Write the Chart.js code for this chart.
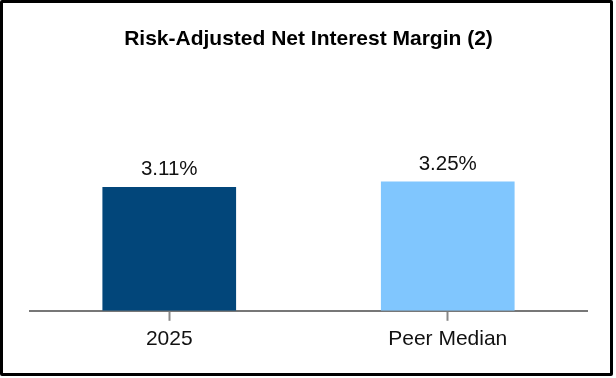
<!DOCTYPE html>
<html>
<head>
<meta charset="utf-8">
<script src="https://cdn.jsdelivr.net/npm/chart.js@4/dist/chart.umd.min.js"></script>
<style>
  body { margin: 0; background: #fff; }
  #wrap { position: relative; width: 616px; height: 378px; }
  #frame {
    position: absolute; left: 0; top: 0; width: 613px; height: 376px;
    box-sizing: border-box; border: 3px solid #000; border-radius: 2px;
    pointer-events: none;
  }
</style>
</head>
<body>
<div id="wrap">
  <canvas id="chart" width="616" height="378"></canvas>
  <div id="frame"></div>
</div>
<script>
// chart data
const categories = ['2025', 'Peer Median'];
const marginValues = [3.11, 3.25];
const valueLabels = ['3.11%', '3.25%'];

const FONT = "'Liberation Sans', Arial, sans-serif";

// draws the value above each bar
const valueLabelPlugin = {
  id: 'valueLabels',
  afterDatasetsDraw(chart) {
    const ctx = chart.ctx;
    const meta = chart.getDatasetMeta(0);
    ctx.save();
    ctx.font = '20.5px ' + FONT;
    ctx.fillStyle = '#111';
    ctx.textAlign = 'center';
    ctx.textBaseline = 'alphabetic';
    meta.data.forEach((bar, i) => {
      ctx.fillText(valueLabels[i], bar.x, bar.y - 12);
    });
    ctx.restore();
  }
};

new Chart(document.getElementById('chart'), {
  type: 'bar',
  data: {
    labels: categories,
    datasets: [{
      data: marginValues,
      backgroundColor: ['#02467A', '#80C6FE'],
      borderWidth: 0,
      barPercentage: 0.96,
      categoryPercentage: 0.5
    }]
  },
  options: {
    responsive: false,
    animation: false,
    layout: { padding: { left: 30, right: 29, top: 17, bottom: 20 } },
    plugins: {
      legend: { display: false },
      tooltip: { enabled: false },
      title: {
        display: true,
        text: 'Risk-Adjusted Net Interest Margin (2)',
        color: '#000',
        font: { family: FONT, size: 21, weight: 'bold' },
        padding: { top: 10, bottom: 10 }
      }
    },
    scales: {
      x: {
        border: { display: true, color: '#777', width: 2 },
        grid: {
          display: true,
          offset: false,
          drawOnChartArea: false,
          drawTicks: true,
          tickLength: 10,
          tickWidth: 2,
          tickColor: '#888'
        },
        ticks: {
          color: '#111',
          padding: 6,
          font: { family: FONT, size: 21 }
        }
      },
      y: {
        display: false,
        min: 0,
        max: 6.25
      }
    }
  },
  plugins: [valueLabelPlugin]
});
</script>
</body>
</html>
